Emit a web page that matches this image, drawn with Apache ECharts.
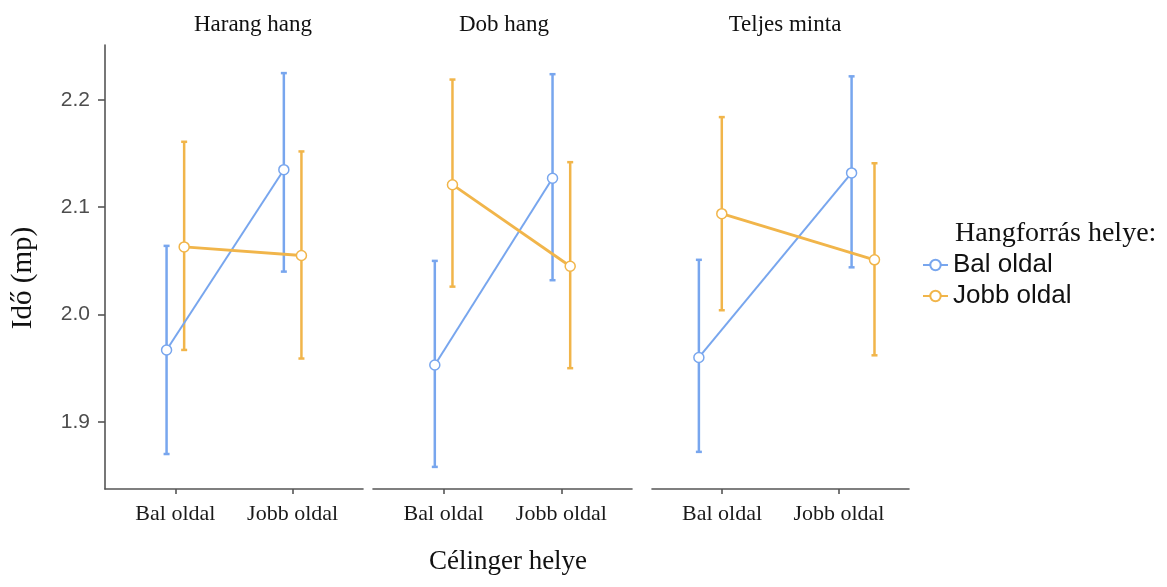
<!DOCTYPE html>
<html>
<head>
<meta charset="utf-8">
<script src="https://cdn.jsdelivr.net/npm/echarts@6/dist/echarts.min.js"></script>
<style>
  html, body { margin: 0; padding: 0; background: #ffffff; }
  #chart { width: 1167px; height: 587px; }
</style>
</head>
<body>
<div id="chart"></div>
<script>
// Facets (stimulus type) and the two factors of the design
const panels = ['Harang hang', 'Dob hang', 'Teljes minta'];
const positions = ['Bal oldal', 'Jobb oldal'];      // Célinger helye
const sources = ['Bal oldal', 'Jobb oldal'];        // Hangforrás helye
const yTicks = [1.9, 2.0, 2.1, 2.2];

// Mean reaction time (s) with interval bounds; one row per facet, one column per target side
const balMean  = [[1.967, 2.135], [1.953, 2.127], [1.960, 2.132]];
const balLow   = [[1.870, 2.040], [1.858, 2.032], [1.872, 2.044]];
const balHigh  = [[2.064, 2.225], [2.050, 2.224], [2.051, 2.222]];
const jobbMean = [[2.063, 2.055], [2.121, 2.045], [2.094, 2.051]];
const jobbLow  = [[1.967, 1.959], [2.026, 1.950], [2.004, 1.962]];
const jobbHigh = [[2.161, 2.152], [2.219, 2.142], [2.184, 2.141]];

const BLUE = '#78a6ee';
const ORANGE = '#f1b54a';
const AXIS = '#555555';
const DODGE = 0.075;
const Y_MIN = 1.8374, Y_MAX = 2.2512;
const SERIF = '"Liberation Serif", "Times New Roman", serif';
const SANS = '"Liberation Sans", Arial, sans-serif';

// panel frames (px)
const frames = [
  { left: 105, width: 258 },
  { left: 373, width: 259 },
  { left: 652, width: 257 }
];

function errorBarItem(params, api) {
  const x = api.value(0);
  const lo = api.coord([x, api.value(1)]);
  const hi = api.coord([x, api.value(2)]);
  const cap = 3;
  const style = { stroke: api.visual('color'), lineWidth: 2.5 };
  return {
    type: 'group',
    children: [
      { type: 'line', shape: { x1: lo[0], y1: lo[1], x2: hi[0], y2: hi[1] }, style: style },
      { type: 'line', shape: { x1: hi[0] - cap, y1: hi[1], x2: hi[0] + cap, y2: hi[1] }, style: style },
      { type: 'line', shape: { x1: lo[0] - cap, y1: lo[1], x2: lo[0] + cap, y2: lo[1] }, style: style }
    ]
  };
}

const grids = frames.map(f => ({
  left: f.left, width: f.width, top: 45, height: 444,
  containLabel: false, outerBoundsMode: 'none'
}));

const xAxes = frames.map((f, p) => ({
  type: 'value', gridIndex: p, min: 0.4, max: 2.6,
  axisLine: { show: true, onZero: false, lineStyle: { color: AXIS, width: 1.6 } },
  axisTick: { show: true, length: 5, customValues: [1, 2], lineStyle: { color: AXIS, width: 1.6 } },
  axisLabel: {
    customValues: [1, 2], margin: 14,
    formatter: v => positions[Math.round(v) - 1],
    fontFamily: SERIF, fontSize: 22, color: '#1a1a1a'
  },
  splitLine: { show: false }
}));
// the "Teljes minta" panel spreads its points on a wider data scale
xAxes.push({ type: 'value', gridIndex: 2, min: 0.618, max: 2.301, show: false, splitLine: { show: false } });

const yAxes = frames.map((f, p) => ({
  type: 'value', gridIndex: p, min: Y_MIN, max: Y_MAX,
  axisLine: { show: p === 0, onZero: false, lineStyle: { color: AXIS, width: 1.6 } },
  axisTick: { show: p === 0, length: 7, customValues: yTicks, lineStyle: { color: AXIS, width: 1.6 } },
  axisLabel: {
    show: p === 0, customValues: yTicks, margin: 15,
    formatter: v => v.toFixed(1),
    fontFamily: SANS, fontSize: 21, color: '#4d4d4d'
  },
  splitLine: { show: false }
}));

const series = [];
panels.forEach((name, p) => {
  const xi = p === 2 ? 3 : p;
  const groups = [
    { name: sources[0], color: BLUE, width: 2, off: -DODGE, mean: balMean[p], low: balLow[p], high: balHigh[p] },
    { name: sources[1], color: ORANGE, width: 2.8, off: DODGE, mean: jobbMean[p], low: jobbLow[p], high: jobbHigh[p] }
  ];
  groups.forEach(g => {
    series.push({
      type: 'custom', name: g.name + ' intervallum',
      xAxisIndex: xi, yAxisIndex: p, z: 2,
      itemStyle: { color: g.color },
      encode: { x: 0, y: [1, 2] },
      renderItem: errorBarItem,
      data: positions.map((_, i) => [i + 1 + g.off, g.low[i], g.high[i]])
    });
  });
  groups.forEach(g => {
    series.push({
      type: 'line', name: g.name,
      xAxisIndex: xi, yAxisIndex: p, z: 3,
      symbol: 'circle', symbolSize: 10, showSymbol: true,
      itemStyle: { color: '#ffffff', borderColor: g.color, borderWidth: 1.5 },
      lineStyle: { color: g.color, width: g.width },
      data: positions.map((_, i) => [i + 1 + g.off, g.mean[i]])
    });
  });
});

const titleCenters = [253, 504, 785];
const graphics = panels.map((t, p) => ({
  type: 'text', x: titleCenters[p], y: 25,
  style: { text: t, font: '23px ' + SERIF, fill: '#111111', align: 'center', verticalAlign: 'middle' }
}));
graphics.push({
  type: 'text', x: 23, y: 278, rotation: Math.PI / 2,
  style: { text: 'Idő (mp)', font: '29px ' + SERIF, fill: '#111111', align: 'center', verticalAlign: 'middle' }
});
graphics.push({
  type: 'text', x: 508, y: 562,
  style: { text: 'Célinger helye', font: '27px ' + SERIF, fill: '#111111', align: 'center', verticalAlign: 'middle' }
});
graphics.push({
  type: 'text', x: 955, y: 234,
  style: { text: 'Hangforrás helye:', font: '28px ' + SERIF, fill: '#111111', align: 'left', verticalAlign: 'middle' }
});

const chart = echarts.init(document.getElementById('chart'), null, { renderer: 'canvas' });
chart.setOption({
  animation: false,
  backgroundColor: '#ffffff',
  grid: grids,
  xAxis: xAxes,
  yAxis: yAxes,
  legend: {
    data: sources, orient: 'vertical', left: 922, top: 252, padding: 0,
    itemWidth: 25, itemHeight: 13, itemGap: 5, selectedMode: false,
    textStyle: { fontFamily: SANS, fontSize: 26, color: '#111111' }
  },
  graphic: graphics,
  series: series
});
</script>
</body>
</html>
